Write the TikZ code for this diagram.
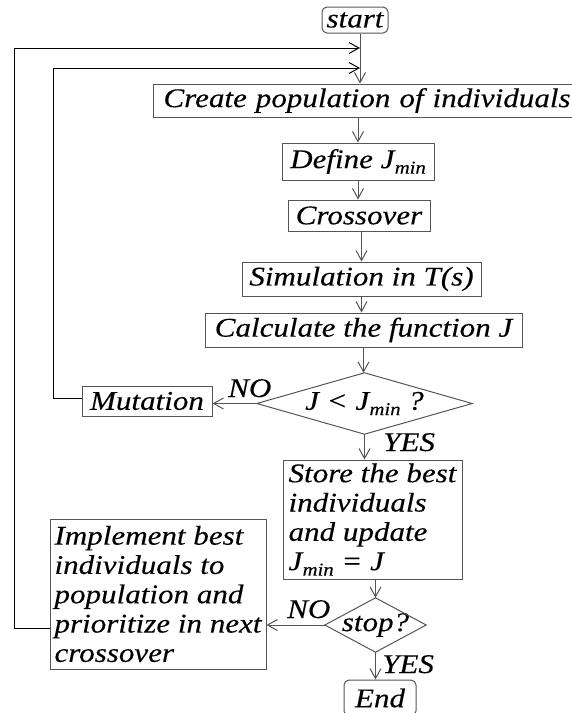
\documentclass[tikz,border=0pt]{standalone}
\usepackage{fontspec}
\setmainfont{Liberation Serif}[FakeStretch=1.15,FakeBold=0.25]
\usetikzlibrary{arrows.meta}
\definecolor{linec}{HTML}{555555}
\newcommand\Jmn{J\kern0.3pt\raisebox{-0.2em}{\fontsize{18}{18}\selectfont min}}
\begin{document}
\begin{tikzpicture}[x=1pt,y=-1pt,
  font=\fontsize{27}{29.3}\selectfont\itshape,
  box/.style={draw=linec, line width=1pt, inner sep=0pt, align=center},
  rbox/.style={box, rounded corners=5pt},
  dnode/.style={inner sep=0pt},
  lbl/.style={inner sep=0pt, anchor=base west},
  arr/.style={draw=linec, line width=1pt, -{Straight Barb[length=10pt,width=11pt]}},
  looparr/.style={arr, draw=black}]
\useasboundingbox (0,0) rectangle (572,713);
% nodes
\node[rbox, minimum width=66, minimum height=26] (start) at (355,20) {start};
\node[box, anchor=west, minimum height=33, text width=410, align=left, inner xsep=10] (create) at (153,100.5) {Create population of individuals};
\node[box, minimum width=152, minimum height=37] (define) at (358,161.5) {Define \Jmn};
\node[box, minimum width=142, minimum height=31] (cross) at (359,215.5) {Crossover};
\node[box, minimum width=239, minimum height=34] (sim) at (361.5,279) {Simulation in T(s)};
\node[box, minimum width=317, minimum height=34] (calc) at (363.5,330) {Calculate the function J};
\node[dnode, minimum width=215, minimum height=61] (dec) at (364.5,403.5) {J < \Jmn\ ?};
\draw[linec, line width=1pt] (dec.north) -- (dec.east) -- (dec.south) -- (dec.west) -- cycle;
\node[box, minimum width=130, minimum height=30] (mut) at (147,401) {Mutation};
\node[box, minimum width=179, minimum height=119, align=left] (store) at (372.5,519.5) {Store the best\\individuals\\and update\\\Jmn{} = J};
\node[box, minimum width=216, minimum height=150, align=left] (impl) at (158,594) {Implement best\\individuals to\\population and\\prioritize in next\\crossover};
\node[dnode, minimum width=101, minimum height=54] (stop) at (375.5,625) {stop?};
\draw[linec, line width=1pt] (stop.north) -- (stop.east) -- (stop.south) -- (stop.west) -- cycle;
\node[rbox, minimum width=72, minimum height=36] (end) at (380,698) {End};
% labels
\node[lbl] (no1) at (228,397) {NO};
\node[lbl] (yes1) at (383,451) {YES};
\node[lbl] (no2) at (287,618) {NO};
\node[lbl] (yes2) at (382,673) {YES};
% junctions
\coordinate (j1) at (360,48);
\coordinate (j2) at (360,68);
% connectors
\draw[arr] ([xshift=5pt]start.south) -- ([xshift=5pt]start.south |- create.north);
\draw[arr] (define.north |- create.south) -- (define.north);
\draw[arr] (define.south) -- (define.south |- cross.north);
\draw[arr] (sim.north |- cross.south) -- (sim.north);
\draw[arr] (sim.south) -- (sim.south |- calc.north);
\draw[arr] (calc.south) -- (calc.south |- dec.north);
\draw[arr] (dec.west) -- (dec.west -| mut.east);
\draw[arr] (dec.south) -- (dec.south |- store.north);
\draw[arr] (stop.north |- store.south) -- (stop.north);
\draw[arr] (stop.west) -- (stop.west -| impl.east);
\draw[arr] (stop.south) -- (stop.south |- end.north);
% loops
\draw[looparr] ([yshift=-34pt]impl.west) -- ++(-35,0) |- (j1);
\draw[looparr] ([yshift=3pt]mut.west) -- ++(-28,0) |- (j2);
\end{tikzpicture}
\end{document}
